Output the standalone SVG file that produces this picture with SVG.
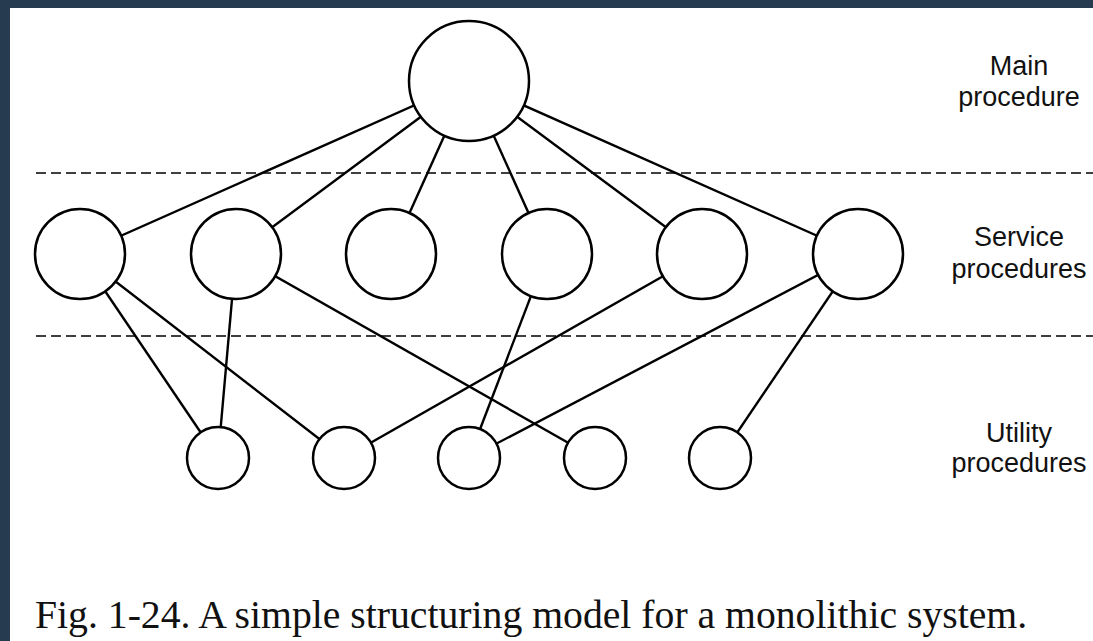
<svg xmlns="http://www.w3.org/2000/svg" width="1093" height="641" viewBox="0 0 1093 641">
  <style>
    .node { fill: #ffffff; stroke: #000000; stroke-width: 2.5; }
    .edge { stroke: #000000; stroke-width: 2.4; fill: none; }
    .layer { stroke: #000000; stroke-width: 1.4; stroke-dasharray: 10 5; fill: none; }
    .label { font-family: "Liberation Sans", Arial, sans-serif; font-size: 27px; fill: #111111; text-anchor: middle; }
    .caption { font-family: "Liberation Serif", "Times New Roman", serif; font-size: 39.7px; fill: #111111; }
  </style>

  <!-- slide backdrop and white page -->
  <rect x="0" y="0" width="1093" height="641" fill="#263b50"/>
  <rect x="10" y="8" width="1083" height="633" fill="#ffffff"/>

  <!-- layer separators -->
  <g id="separators">
    <line class="layer" x1="36" y1="173" x2="1093" y2="173"/>
    <line class="layer" x1="36" y1="336" x2="1093" y2="336"/>
  </g>

  <!-- connectors, centre to centre; circles are painted over them -->
  <g id="connectors">
    <line class="edge" x1="469" y1="81" x2="80" y2="254"/>
    <line class="edge" x1="469" y1="81" x2="236" y2="254"/>
    <line class="edge" x1="469" y1="81" x2="391" y2="254"/>
    <line class="edge" x1="469" y1="81" x2="547" y2="254"/>
    <line class="edge" x1="469" y1="81" x2="702" y2="254"/>
    <line class="edge" x1="469" y1="81" x2="858" y2="254"/>

    <line class="edge" x1="80" y1="254" x2="218" y2="458"/>
    <line class="edge" x1="80" y1="254" x2="344" y2="458"/>
    <line class="edge" x1="236" y1="254" x2="218" y2="458"/>
    <line class="edge" x1="236" y1="254" x2="595" y2="458"/>
    <line class="edge" x1="547" y1="254" x2="469" y2="458"/>
    <line class="edge" x1="702" y1="254" x2="344" y2="458"/>
    <line class="edge" x1="858" y1="254" x2="469" y2="458"/>
    <line class="edge" x1="858" y1="254" x2="720" y2="458"/>
  </g>

  <!-- main procedure -->
  <g id="main"><circle class="node" cx="469" cy="81" r="60"/></g>

  <!-- service procedures -->
  <g id="service1"><circle class="node" cx="80" cy="254" r="45"/></g>
  <g id="service2"><circle class="node" cx="236" cy="254" r="45"/></g>
  <g id="service3"><circle class="node" cx="391" cy="254" r="45"/></g>
  <g id="service4"><circle class="node" cx="547" cy="254" r="45"/></g>
  <g id="service5"><circle class="node" cx="702" cy="254" r="45"/></g>
  <g id="service6"><circle class="node" cx="858" cy="254" r="45"/></g>

  <!-- utility procedures -->
  <g id="utility1"><circle class="node" cx="218" cy="458" r="31"/></g>
  <g id="utility2"><circle class="node" cx="344" cy="458" r="31"/></g>
  <g id="utility3"><circle class="node" cx="469" cy="458" r="31"/></g>
  <g id="utility4"><circle class="node" cx="595" cy="458" r="31"/></g>
  <g id="utility5"><circle class="node" cx="720" cy="458" r="31"/></g>

  <!-- layer names -->
  <g id="labels">
    <text class="label" x="1019" y="75">Main</text>
    <text class="label" x="1019" y="106">procedure</text>
    <text class="label" x="1019" y="246">Service</text>
    <text class="label" x="1019" y="278">procedures</text>
    <text class="label" x="1019" y="442">Utility</text>
    <text class="label" x="1019" y="472">procedures</text>
  </g>

  <text id="caption" class="caption" x="35" y="628">Fig. 1-24. A simple structuring model for a monolithic system.</text>
</svg>
